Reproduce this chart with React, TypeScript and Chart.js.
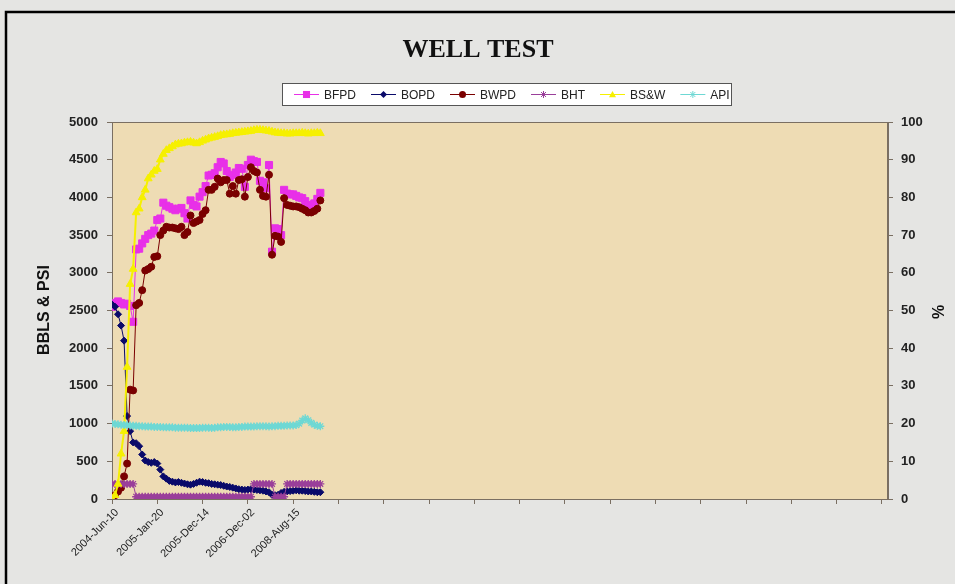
import React, { useEffect, useRef } from 'react';
import { Chart, registerables } from 'chart.js';

Chart.register(...registerables);

// ---- data ----
const TICK_LABELS = ['2004-Jun-10', '2005-Jan-20', '2005-Dec-14', '2006-Dec-02', '2008-Aug-15'];
const TICK_STEP = 15;
const AXIS_LAST_INDEX = 257;

const BFPD = [
  2550, 2600, 2620, 2600, 2580, 2590, 2560, 2350, 3310, 3320,
  3390, 3450, 3500, 3520, 3560, 3700, 3720, 3930, 3890, 3870,
  3850, 3830, 3850, 3860, 3790, 3720, 3960, 3900, 3880, 4010,
  4070, 4150, 4290, 4300, 4320, 4400, 4470, 4450, 4350, 4270,
  4300, 4330, 4390, 4380, 4140, 4430, 4500, 4480, 4470, 4220,
  4200, 4120, 4430, 3280, 3590, 3580, 3500, 4100, 4050, 4040,
  4040, 4020, 4000, 3990, 3950, 3900, 3880, 3920, 3980, 4060,
];
const BOPD = [
  2580, 2550, 2450, 2300, 2100, 1100, 900, 750, 740, 700,
  590, 510, 490, 480, 490, 470, 390, 300, 270, 240,
  230, 220, 225, 215, 205, 195, 190, 200, 215, 230,
  225, 215, 210, 200, 195, 190, 185, 175, 165, 160,
  150, 140, 130, 125, 120, 125, 130, 125, 120, 115,
  110, 100, 90, 55, 50, 55, 80, 95, 100, 105,
  110, 115, 110, 110, 105, 100, 100, 95, 90, 90,
];
const BWPD = [
  20, 50, 100, 150, 300, 470, 1450, 1440, 2570, 2600,
  2770, 3030, 3050, 3080, 3210, 3220, 3500, 3560, 3610, 3600,
  3600, 3590, 3580, 3610, 3500, 3540, 3760, 3660, 3680, 3700,
  3780, 3830, 4100, 4100, 4140, 4250, 4200, 4230, 4230, 4050,
  4150, 4050, 4230, 4240, 4010, 4270, 4400, 4350, 4330, 4100,
  4020, 4010, 4300, 3240, 3490, 3480, 3410, 3990, 3900, 3890,
  3880, 3880, 3870, 3850, 3830, 3800, 3800, 3820, 3850, 3960,
];
const BHT = [
  200, 200, 200, 200, 200, 200, 200, 200, 30, 30,
  30, 30, 30, 30, 30, 30, 30, 30, 30, 30,
  30, 30, 30, 30, 30, 30, 30, 30, 30, 30,
  30, 30, 30, 30, 30, 30, 30, 30, 30, 30,
  30, 30, 30, 30, 30, 30, 30, 200, 200, 200,
  200, 200, 200, 200, 30, 30, 30, 30, 200, 200,
  200, 200, 200, 200, 200, 200, 200, 200, 200, 200,
];
const BSW = [
  0, 1, 4, 12, 18, 35, 57, 61, 76, 77,
  80, 82, 85, 86, 87, 87.5, 90, 91.5, 92.5, 93,
  93.5, 94, 94.2, 94.3, 94.5, 94.6, 94.7, 94.5, 94.3, 94.6,
  95, 95.3, 95.6, 95.8, 96, 96.2, 96.5, 96.6, 96.7, 96.8,
  97, 97.1, 97.2, 97.3, 97.4, 97.5, 97.6, 97.8, 97.9, 97.9,
  97.8, 97.7, 97.6, 97.4, 97.2, 97.1, 97, 97, 96.9, 96.9,
  97, 97, 97, 97.1, 97, 96.9, 97, 97, 97.1, 97,
];
const API = [
  1000, 995, 990, 985, 980, 980, 975, 970, 970, 965,
  965, 960, 960, 960, 955, 955, 955, 950, 950, 950,
  950, 945, 945, 945, 945, 945, 940, 940, 940, 940,
  945, 945, 945, 940, 945, 950, 950, 955, 955, 955,
  950, 950, 955, 955, 960, 960, 960, 960, 965, 965,
  965, 965, 960, 965, 965, 970, 970, 970, 975, 975,
  975, 980, 1000, 1040, 1070, 1045, 1010, 985, 970, 965,
];

const LEFT_TICKS = { min: 0, max: 5000, step: 500 };
const RIGHT_TICKS = { min: 0, max: 100, step: 10 };

type Series = {
  label: string;
  values: number[];
  color: string;
  fill: string;
  style: string;
  radius: number;
  width: number;
  axis: string;
};

const SERIES: Series[] = [
  { label: 'BFPD', values: BFPD, color: '#e830e8', fill: '#e830e8', style: 'rect', radius: 5, width: 1, axis: 'y' },
  { label: 'BOPD', values: BOPD, color: '#0a0a6a', fill: '#0a0a6a', style: 'rectRot', radius: 3.5, width: 1, axis: 'y' },
  { label: 'BWPD', values: BWPD, color: '#7a0000', fill: '#7a0000', style: 'circle', radius: 3.5, width: 1, axis: 'y' },
  { label: 'BHT', values: BHT, color: '#9a3f9a', fill: '#9a3f9a', style: 'star', radius: 4, width: 1, axis: 'y' },
  { label: 'BS&W', values: BSW, color: '#f6f000', fill: '#f6f000', style: 'triangle', radius: 4.5, width: 2, axis: 'y1' },
  { label: 'API', values: API, color: '#6ed8d4', fill: '#6ed8d4', style: 'star', radius: 4, width: 2, axis: 'y' },
];

const AXIS_COLOR = '#7a6f62';
const SANS = '"Liberation Sans", Arial, sans-serif';

function drawMarker(ctx: CanvasRenderingContext2D, style: string, x: number, y: number, r: number, color: string) {
  ctx.save();
  ctx.fillStyle = color;
  ctx.strokeStyle = color;
  ctx.lineWidth = 1;
  ctx.beginPath();
  if (style === 'rect') {
    const s = r * Math.SQRT1_2;
    ctx.rect(x - s, y - s, 2 * s, 2 * s);
    ctx.fill();
  } else if (style === 'rectRot') {
    ctx.moveTo(x, y - r);
    ctx.lineTo(x + r, y);
    ctx.lineTo(x, y + r);
    ctx.lineTo(x - r, y);
    ctx.closePath();
    ctx.fill();
  } else if (style === 'circle') {
    ctx.arc(x, y, r, 0, Math.PI * 2);
    ctx.fill();
  } else if (style === 'triangle') {
    ctx.moveTo(x, y - r);
    ctx.lineTo(x + r, y + r * 0.8);
    ctx.lineTo(x - r, y + r * 0.8);
    ctx.closePath();
    ctx.fill();
  } else if (style === 'star') {
    ctx.moveTo(x - r, y);
    ctx.lineTo(x + r, y);
    ctx.moveTo(x, y - r);
    ctx.lineTo(x, y + r);
    const d = r * Math.SQRT1_2;
    ctx.moveTo(x - d, y - d);
    ctx.lineTo(x + d, y + d);
    ctx.moveTo(x - d, y + d);
    ctx.lineTo(x + d, y - d);
    ctx.stroke();
  }
  ctx.restore();
}

const decorPlugin = {
  id: 'decor',
  beforeDraw(chart: any) {
    const { ctx, chartArea: a, width, height } = chart;
    ctx.save();
    ctx.fillStyle = '#e5e5e3';
    ctx.fillRect(0, 0, width, height);
    ctx.fillStyle = '#eedcb4';
    ctx.fillRect(a.left, a.top, a.right - a.left, a.bottom - a.top);
    ctx.restore();
  },
  beforeDatasetsDraw(chart: any) {
    const { ctx, chartArea: a } = chart;
    ctx.save();
    ctx.strokeStyle = AXIS_COLOR;
    ctx.lineWidth = 1;
    ctx.strokeRect(a.left + 0.5, a.top + 0.5, a.right - a.left - 1, a.bottom - a.top);
    ctx.restore();
  },
  afterDraw(chart: any) {
    const { ctx, width, height } = chart;
    ctx.save();
    // outer frame
    ctx.strokeStyle = '#000';
    ctx.lineWidth = 2.5;
    ctx.beginPath();
    ctx.moveTo(6, height + 5);
    ctx.lineTo(6, 12);
    ctx.lineTo(width + 5, 12);
    ctx.stroke();

    // title
    ctx.fillStyle = '#111';
    ctx.font = 'bold 26px "Liberation Serif", "Times New Roman", serif';
    ctx.textAlign = 'center';
    ctx.textBaseline = 'alphabetic';
    ctx.fillText('WELL TEST', 478, 57);

    // legend
    const bx = 282, by = 83, bw = 449, bh = 22;
    ctx.fillStyle = '#ffffff';
    ctx.fillRect(bx, by, bw, bh);
    ctx.strokeStyle = '#555';
    ctx.lineWidth = 1;
    ctx.strokeRect(bx + 0.5, by + 0.5, bw, bh);
    ctx.font = '12px ' + SANS;
    ctx.textAlign = 'left';
    ctx.textBaseline = 'middle';
    let x = 294;
    const ly = by + bh / 2 + 0.5;
    SERIES.forEach((s) => {
      ctx.strokeStyle = s.color;
      ctx.lineWidth = 1;
      ctx.beginPath();
      ctx.moveTo(x, ly);
      ctx.lineTo(x + 25, ly);
      ctx.stroke();
      drawMarker(ctx, s.style, x + 12.5, ly, s.style === 'rect' ? 5 : 3.5, s.fill);
      ctx.fillStyle = '#222';
      ctx.fillText(s.label, x + 30, ly + 1);
      x += 30 + ctx.measureText(s.label).width + 15;
    });

    // axis titles
    ctx.fillStyle = '#111';
    ctx.font = 'bold 16px ' + SANS;
    ctx.textAlign = 'center';
    ctx.textBaseline = 'middle';
    ctx.save();
    ctx.translate(45, 310);
    ctx.rotate(-Math.PI / 2);
    ctx.fillText('BBLS & PSI', 0, 0);
    ctx.restore();
    ctx.save();
    ctx.translate(940, 312);
    ctx.rotate(-Math.PI / 2);
    ctx.fillText('%', 0, 0);
    ctx.restore();
    ctx.restore();
  },
};

export default function App() {
  const ref = useRef<HTMLCanvasElement | null>(null);

  useEffect(() => {
    const canvas = ref.current;
    if (!canvas) return;
    const chart = new Chart(canvas, {
      type: 'line',
      data: {
        datasets: SERIES.map((s, k) => ({
          label: s.label,
          data: s.values.map((v, i) => ({ x: i, y: v })),
          yAxisID: s.axis,
          borderColor: s.color,
          backgroundColor: s.fill,
          pointBackgroundColor: s.fill,
          pointBorderColor: s.color,
          pointStyle: s.style as any,
          pointRadius: s.radius,
          pointBorderWidth: s.style === 'star' ? 1.3 : 1,
          borderWidth: s.width,
          tension: 0,
          fill: false,
          order: SERIES.length - k,
        })),
      },
      options: {
        responsive: false,
        animation: false,
        events: [],
        layout: { padding: { top: 122, left: 0, right: 0, bottom: 0 } },
        plugins: {
          legend: { display: false },
          title: { display: false },
          tooltip: { enabled: false },
        },
        scales: {
          x: {
            type: 'linear',
            min: 0,
            max: AXIS_LAST_INDEX,
            afterFit: (s: any) => { s.height = 85; },
            grid: { drawOnChartArea: false, drawTicks: true, tickLength: 5, color: AXIS_COLOR },
            border: { display: true, color: AXIS_COLOR },
            ticks: {
              stepSize: TICK_STEP,
              includeBounds: false,
              autoSkip: false,
              minRotation: 45,
              maxRotation: 45,
              padding: 2,
              labelOffset: 5,
              color: '#222',
              font: { family: SANS, size: 11 },
              callback: (v: any) => {
                const idx = Math.round(Number(v) / TICK_STEP);
                return TICK_LABELS[idx] ?? '';
              },
            },
          },
          y: {
            type: 'linear',
            position: 'left',
            min: LEFT_TICKS.min,
            max: LEFT_TICKS.max,
            afterFit: (s: any) => { s.width = 112; },
            grid: { drawOnChartArea: false, drawTicks: true, tickLength: 5, color: AXIS_COLOR },
            border: { display: true, color: AXIS_COLOR },
            ticks: {
              stepSize: LEFT_TICKS.step,
              padding: 9,
              color: '#222',
              font: { family: SANS, size: 13, weight: 'bold' },
              callback: (v: any) => String(v),
            },
          },
          y1: {
            type: 'linear',
            position: 'right',
            min: RIGHT_TICKS.min,
            max: RIGHT_TICKS.max,
            afterFit: (s: any) => { s.width = 67; },
            grid: { drawOnChartArea: false, drawTicks: true, tickLength: 5, color: AXIS_COLOR },
            border: { display: true, color: AXIS_COLOR },
            ticks: {
              stepSize: RIGHT_TICKS.step,
              padding: 8,
              color: '#222',
              font: { family: SANS, size: 13, weight: 'bold' },
              callback: (v: any) => String(v),
            },
          },
        },
      } as any,
      plugins: [decorPlugin],
    });
    return () => chart.destroy();
  }, []);

  return (
    <div style={{ position: 'fixed', left: 0, top: 0, width: 955, height: 584 }}>
      <canvas ref={ref} width={955} height={584} style={{ display: 'block' }} />
    </div>
  );
}
